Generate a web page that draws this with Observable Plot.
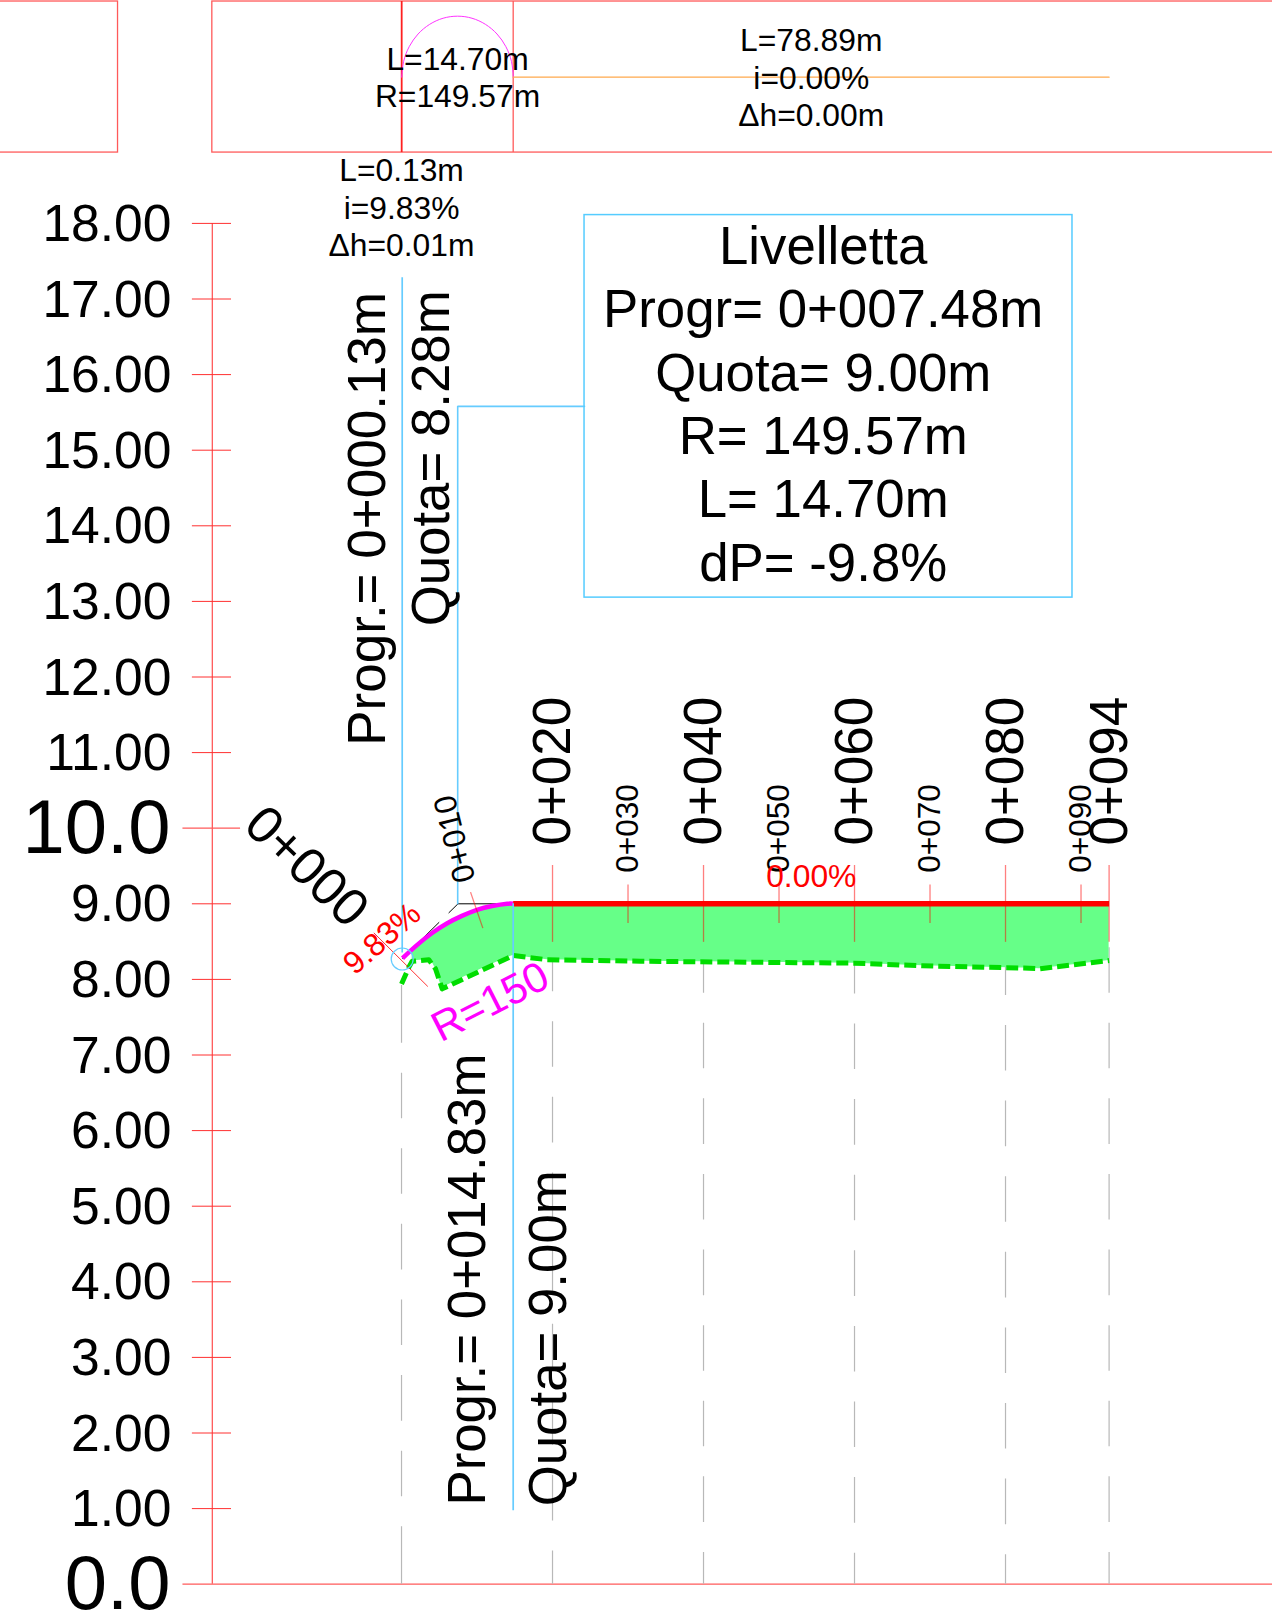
<!DOCTYPE html>
<html><head><meta charset="utf-8">
<script src="https://cdn.jsdelivr.net/npm/d3@7"></script>
<script src="https://cdn.jsdelivr.net/npm/@observablehq/plot@0.6"></script>
<style>html,body{margin:0;padding:0;background:#fff;overflow:hidden}svg{display:block}</style>
</head><body><div id="chart"></div>
<script>
// Road profile values, in station metres and elevation metres
const axisStation = -25.06;
const elevTicks = [1,2,3,4,5,6,7,8,9,11,12,13,14,15,16,17,18];
const elevBigTicks = [0,10];
const majorStations = [20,40,60,80,93.72];
const majorLabels = ["0+020","0+040","0+060","0+080","0+094"];
const minorStations = [30,50,70,90];
const minorLabels = ["0+030","0+050","0+070","0+090"];
const guideTops = [8.44,8.42,8.41,8.39,8.42];

const arcStation = [0.13,2,4,6,8,10,12,14,14.79];
const arcElev    = [8.28,8.45,8.61,8.74,8.84,8.92,8.97,9.00,9.00];
const gradeStation = [14.79,93.72];
const gradeElev = [9,9];
const tangentStation = [0.13,7.48];
const tangentElev = [8.28,9];
const tangentFlatStation = [7.48,14.79];
const tangentFlatElev = [9,9];

const terrainStation = [0,0.97,1.41,3.62,4.5,5.39,14.8,19.3,31.65,59.95,69,82.4,84.5,93.72];
const terrainElev    = [7.94,8.16,8.24,8.26,8.14,7.875,8.316,8.26,8.24,8.215,8.18,8.15,8.14,8.25];

const fillStation = [1.41,2,3.62,4,4.5,5.39,6,8,10,12,14,14.8,19.3,31.65,59.95,69,82.4,84.5,93.72];
const fillTop     = [8.40,8.45,8.58,8.61,8.64,8.69,8.74,8.84,8.92,8.97,9,9,9,9,9,9,9,9,9];
const fillBottom  = [8.24,8.25,8.26,8.24,8.14,7.875,7.92,8.02,8.11,8.20,8.29,8.316,8.26,8.24,8.215,8.18,8.15,8.14,8.25];

const bandArcStation = [0.03,0.28,1.02,2.19,3.725,5.51,7.42,9.33,11.115,12.65,13.82,14.56,14.81];
const bandArcElev = [19.934,20.143,20.338,20.505,20.633,20.714,20.741,20.714,20.633,20.505,20.338,20.143,19.934];

const bandTop = 20.935, bandBottom = 18.937, bandMid = 19.934;
const bandTexts = ["L=14.70m\nR=149.57m","L=78.89m\ni=0.00%\nΔh=0.00m","L=0.13m\ni=9.83%\nΔh=0.01m"];
const boxText = "Livelletta\nProgr= 0+007.48m\nQuota= 9.00m\nR= 149.57m\nL= 14.70m\ndP= -9.8%";

const red = "#ff0000", blue = "#66ccff", mag = "#ff00ff", band = "#ff5a5a", tick = "#ff3030";
const row = (xs, ys) => xs.map((x,i)=>({x,y:ys[i]}));
const one = (d) => [d];
const fillRows = fillStation.map((x,i)=>({x,y1:fillTop[i],y2:fillBottom[i]}));

const chart = Plot.plot({
  width:1272, height:1623,
  marginLeft:231, marginRight:163.4, marginTop:222.9, marginBottom:39.3,
  x:{domain:[-22.52,93.72],axis:null},
  y:{domain:[0,18],axis:null},
  style:{fontFamily:"'Liberation Sans',Arial,sans-serif",background:"#fff",overflow:"hidden"},
  marks:[
    // top band
    Plot.rect(one({x1:-70,x2:-37.55,y1:bandBottom,y2:bandTop}),{x1:"x1",x2:"x2",y1:"y1",y2:"y2",fill:"none",stroke:band,strokeWidth:1.3}),
    Plot.rect(one({x1:axisStation,x2:130,y1:bandBottom,y2:bandTop}),{x1:"x1",x2:"x2",y1:"y1",y2:"y2",fill:"none",stroke:band,strokeWidth:1.3}),
    Plot.ruleX([0.02],{y1:bandBottom,y2:bandTop,stroke:"#ff2020",strokeWidth:1.8}),
    Plot.ruleX([14.79],{y1:bandBottom,y2:bandTop,stroke:band,strokeWidth:1.3}),
    Plot.line(row(bandArcStation,bandArcElev),{x:"x",y:"y",curve:"natural",stroke:"#ff33ff",strokeWidth:1}),
    Plot.line(row([14.79,93.72],[bandMid,bandMid]),{x:"x",y:"y",stroke:"#ffa94d",strokeWidth:1.2}),
    // axes
    Plot.ruleX([axisStation],{y1:0,y2:18,stroke:band,strokeWidth:1.3}),
    Plot.ruleY(elevTicks,{y:d=>d,x1:-27.7,x2:-22.52,stroke:tick,strokeWidth:1}),
    Plot.ruleY([10],{x1:-28.95,x2:-21.32,stroke:band,strokeWidth:1.2}),
    Plot.ruleY([0],{x1:-28.95,x2:130,stroke:band,strokeWidth:1.3}),
    Plot.axisY({ticks:elevTicks,tickFormat:d3.format(".2f"),tickSize:0,tickPadding:60,fontSize:51.6,dy:1,label:null,textStroke:"none",fill:"#000"}),
    Plot.axisY({ticks:elevBigTicks,tickFormat:d3.format(".1f"),tickSize:0,tickPadding:61,fontSize:76,label:null,textStroke:"none",fill:"#000"}),
    // dashed station guides
    Plot.ruleX(majorStations,{x:d=>d,y1:(d,i)=>guideTops[i],y2:0,stroke:"#b8b8b8",strokeWidth:1.2,strokeDasharray:"45.6 30"}),
    Plot.ruleX([0],{y1:7.92,y2:0,stroke:"#b8b8b8",strokeWidth:1.2,strokeDasharray:"57.7 30 45.6 30 45.6 30 45.6 30 45.6 30 45.6 30 45.6 30 58.4 30"}),
    // fill and profile
    Plot.areaY(fillRows,{x:"x",y1:"y1",y2:"y2",fill:"#66ff88"}),
    Plot.line(row(tangentStation,tangentElev),{x:"x",y:"y",stroke:"#000",strokeWidth:1,strokeDasharray:"22 14",strokeDashoffset:7}),
    Plot.line(row(tangentFlatStation,tangentFlatElev),{x:"x",y:"y",stroke:"#000",strokeWidth:1}),
    Plot.line(row(terrainStation,terrainElev),{x:"x",y:"y",stroke:"#00dd00",strokeWidth:5,strokeDasharray:"12 5",strokeLinecap:"butt"}),
    Plot.line(row(arcStation,arcElev),{x:"x",y:"y",curve:"natural",stroke:mag,strokeWidth:4.5,strokeLinecap:"butt"}),
    Plot.line(row(gradeStation,gradeElev),{x:"x",y:"y",stroke:red,strokeWidth:5.5,strokeLinecap:"butt"}),
    // station ticks
    Plot.ruleX(majorStations,{x:d=>d,y1:8.49,y2:9.507,stroke:red,strokeOpacity:0.5,strokeWidth:1.3}),
    Plot.ruleX(minorStations,{x:d=>d,y1:8.74,y2:9.25,stroke:red,strokeOpacity:0.5,strokeWidth:1.3}),
    Plot.link(one({x1:9.14,y1:9.154,x2:10.77,y2:8.678}),{x1:"x1",y1:"y1",x2:"x2",y2:"y2",stroke:red,strokeOpacity:0.5,strokeWidth:1.3}),
    Plot.link(one({x1:-3.67,y1:8.616,x2:3.48,y2:7.906}),{x1:"x1",y1:"y1",x2:"x2",y2:"y2",stroke:red,strokeOpacity:0.8,strokeWidth:1}),
    // blue leaders
    Plot.ruleX([0.09],{y1:8.35,y2:17.28,stroke:blue,strokeWidth:1.7}),
    Plot.ruleX([14.79],{y1:9,y2:0.97,stroke:blue,strokeWidth:1.7}),
    Plot.line(row([7.44,7.44,24.24],[9,15.58,15.58]),{x:"x",y:"y",stroke:blue,strokeWidth:1.6,strokeLinejoin:"miter"}),
    Plot.rect(one({x1:24.24,x2:88.87,y1:13.05,y2:18.11}),{x1:"x1",x2:"x2",y1:"y1",y2:"y2",fill:"none",stroke:"#55ccff",strokeWidth:1.5}),
    Plot.dot(one({x:0.09,y:8.27}),{x:"x",y:"y",r:11,stroke:blue,strokeWidth:1.2}),
    // band and box text
    Plot.text(one(bandTexts[0]),{x:7.42,y:19.945,text:d=>d,fontSize:31.8,lineHeight:1.18,fill:"#000"}),
    Plot.text(one(bandTexts[1]),{x:54.27,y:19.94,text:d=>d,fontSize:31.8,lineHeight:1.18,fill:"#000"}),
    Plot.text(one(bandTexts[2]),{x:0,y:18.22,text:d=>d,fontSize:31.8,lineHeight:1.18,fill:"#000"}),
    Plot.text(one(boxText),{x:55.85,y:15.637,text:d=>d,fontSize:52.8,lineHeight:1.2,fill:"#000"}),
    // rotated leader labels
    Plot.text(["Progr.= 0+000.13m"],{x:-4.38,y:11.09,text:d=>d,rotate:-90,textAnchor:"start",fontSize:53,fill:"#000"}),
    Plot.text(["Quota= 8.28m"],{x:4.05,y:12.67,text:d=>d,rotate:-90,textAnchor:"start",fontSize:52.8,fill:"#000"}),
    Plot.text(["Progr.= 0+014.83m"],{x:8.87,y:1.04,text:d=>d,rotate:-90,textAnchor:"start",fontSize:52.8,fill:"#000"}),
    Plot.text(["Quota= 9.00m"],{x:19.55,y:1.03,text:d=>d,rotate:-90,textAnchor:"start",fontSize:52.8,fill:"#000"}),
    // station labels
    Plot.text(majorLabels,{x:(d,i)=>majorStations[i],y:9.77,dx:1,text:d=>d,rotate:-90,textAnchor:"start",fontSize:53,fill:"#000"}),
    Plot.text(minorLabels,{x:(d,i)=>minorStations[i],y:9.41,text:d=>d,rotate:-90,textAnchor:"start",fontSize:31.6,fill:"#000"}),
    Plot.text(["0+010"],{x:8.5,y:9.29,text:d=>d,rotate:-104,textAnchor:"start",fontSize:31.6,fill:"#000"}),
    Plot.text(["0+000"],{x:-12.6,y:9.49,text:d=>d,rotate:44,fontSize:52.5,fill:"#000"}),
    // slope labels
    Plot.text(["9.83%"],{x:-2.56,y:8.537,text:d=>d,rotate:-41,fontSize:31.8,fill:red}),
    Plot.text(["0.00%"],{x:54.27,y:9.362,text:d=>d,fontSize:31.8,fill:red}),
    Plot.text(["R=150"],{x:11.77,y:7.70,text:d=>d,rotate:-27,fontSize:42,fill:mag})
  ]
});
document.getElementById("chart").append(chart);
</script></body></html>
